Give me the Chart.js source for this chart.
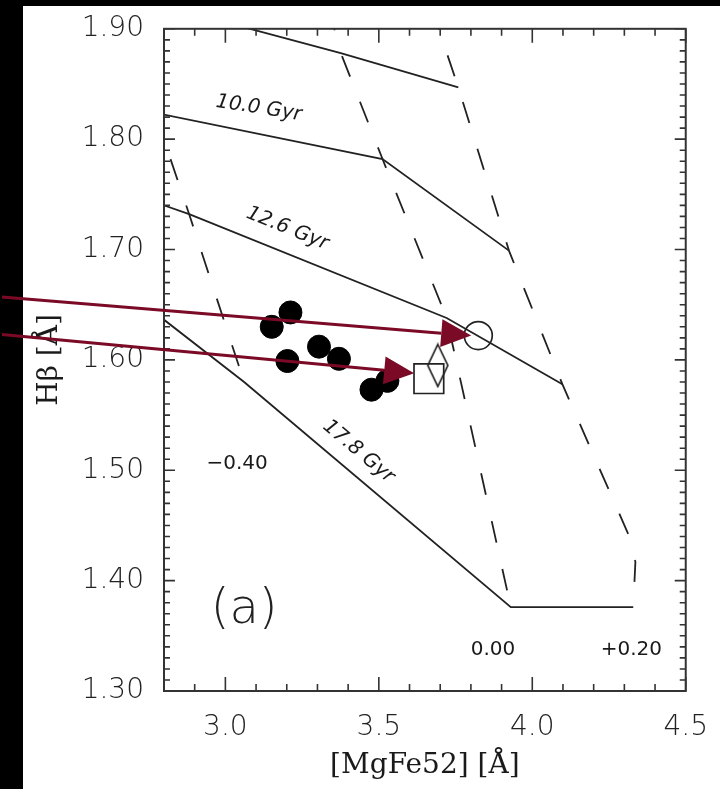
<!DOCTYPE html>
<html>
<head>
<meta charset="utf-8">
<script src="https://cdn.jsdelivr.net/npm/chart.js@4.4.1/dist/chart.umd.min.js"></script>
<style>
  html, body { margin: 0; padding: 0; background: #000; }
  canvas { display: block; }
</style>
</head>
<body>
<canvas id="lickChart" width="720" height="789"></canvas>
<script>
// iso-age model lines (solid), MgFe52 vs Hbeta
const isoTopMg = [3.000, 3.093, 3.376, 3.759];
const isoTopHb = [1.906, 1.899, 1.878, 1.847];
const iso100Mg = [2.770, 3.512, 3.924];
const iso100Hb = [1.824, 1.782, 1.699];
const iso126Mg = [2.780, 2.882, 3.721, 4.098];
const iso126Hb = [1.742, 1.732, 1.638, 1.578];
const iso178Mg = [2.723, 3.061, 3.930, 4.329];
const iso178Hb = [1.653, 1.580, 1.376, 1.376];

// iso-metallicity model lines (dashed)
const metM040Mg = [2.770, 2.882, 3.061];
const metM040Hb = [1.824, 1.732, 1.580];
const met000Mg = [3.338, 3.376, 3.512, 3.721, 3.930];
const met000Hb = [1.918, 1.878, 1.782, 1.638, 1.376];
const metP020Mg = [3.673, 3.759, 3.924, 4.098, 4.313, 4.336, 4.329];
const metP020Hb = [1.918, 1.847, 1.699, 1.578, 1.442, 1.417, 1.376];

// galaxies (filled) and the three comparison objects
const galMg = [3.151, 3.212, 3.202, 3.305, 3.370, 3.476, 3.528];
const galHb = [1.630, 1.643, 1.599, 1.612, 1.601, 1.573, 1.581];
const circleMg = [3.824];
const circleHb = [1.622];
const squareMg = [3.663];
const squareHb = [1.583];
const diamondMg = [3.692];
const diamondHb = [1.595];

// axis tick labels
const xTicks = [3.0, 3.5, 4.0, 4.5];
const yTicks = [1.30, 1.40, 1.50, 1.60, 1.70, 1.80, 1.90];

// annotations in data units
const arrows = [
  { from: [2.272, 1.657], to: [3.801, 1.622] },
  { from: [2.272, 1.623], to: [3.615, 1.588] }
];
const notes = [
  { text: "10.0 Gyr", x: 3.109, y: 1.828, angle: 9, italic: true },
  { text: "12.6 Gyr", x: 3.202, y: 1.719, angle: 22, italic: true },
  { text: "17.8 Gyr", x: 3.434, y: 1.517, angle: 40, italic: true },
  { text: "\u22120.40", x: 3.038, y: 1.506, angle: 0 },
  { text: "0.00", x: 3.872, y: 1.337, angle: 0 },
  { text: "+0.20", x: 4.323, y: 1.337, angle: 0 }
];

const pts = (xs, ys) => xs.map((v, i) => ({ x: v, y: ys[i] }));
const ink = "#222";

// tall open diamond used for one of the markers
const diamond = document.createElement("canvas");
diamond.width = 24;
diamond.height = 46;
(() => {
  const c = diamond.getContext("2d");
  c.strokeStyle = ink;
  c.lineWidth = 1.7;
  c.beginPath();
  c.moveTo(12, 2);
  c.lineTo(22, 23);
  c.lineTo(12, 44);
  c.lineTo(2, 23);
  c.closePath();
  c.stroke();
})();

const lineSet = (xs, ys, dashed) => ({
  data: pts(xs, ys),
  showLine: true,
  pointRadius: 0,
  borderColor: ink,
  borderWidth: 1.8,
  borderDash: dashed ? [22, 27] : [],
  fill: false
});

const pageBg = {
  id: "pageBg",
  beforeDraw(chart) {
    const ctx = chart.ctx;
    ctx.save();
    ctx.fillStyle = "#000";
    ctx.fillRect(0, 0, chart.width, chart.height);
    ctx.fillStyle = "#fff";
    ctx.fillRect(23, 6, chart.width - 23, chart.height - 6);
    ctx.restore();
  }
};

const frameTicks = {
  id: "frameTicks",
  afterDatasetsDraw(chart) {
    const { ctx, chartArea: a, scales: { x, y } } = chart;
    const seg = (x1, y1, x2, y2) => { ctx.moveTo(x1, y1); ctx.lineTo(x2, y2); };
    ctx.save();
    ctx.strokeStyle = "#333";
    ctx.lineWidth = 1.6;
    ctx.beginPath();
    for (let i = 0; i <= 60; i++) {
      const py = y.getPixelForValue(1.30 + i * 0.01);
      const len = i % 10 === 0 ? 11 : 6;
      seg(a.left, py, a.left + len, py);
      seg(a.right, py, a.right - len, py);
    }
    for (let i = 0; i <= 17; i++) {
      const px = x.getPixelForValue(2.8 + i * 0.1);
      const len = (i - 2) % 5 === 0 ? 14 : 7;
      seg(px, a.bottom, px, a.bottom - len);
      seg(px, a.top, px, a.top + len);
    }
    ctx.stroke();
    ctx.lineWidth = 2;
    ctx.strokeRect(a.left, a.top, a.right - a.left, a.bottom - a.top);
    ctx.restore();
  }
};

const annotate = {
  id: "annotate",
  afterDraw(chart) {
    const { ctx, scales: { x, y } } = chart;
    ctx.save();
    ctx.fillStyle = "#1a1a1a";
    ctx.textAlign = "center";
    ctx.textBaseline = "middle";
    notes.forEach(n => {
      ctx.save();
      ctx.translate(x.getPixelForValue(n.x), y.getPixelForValue(n.y));
      ctx.rotate(n.angle * Math.PI / 180);
      ctx.font = (n.italic ? "italic " : "") + "20px 'DejaVu Sans'";
      ctx.fillText(n.text, 0, 0);
      ctx.restore();
    });
    ctx.fillStyle = "#222";
    ctx.font = "300 48px 'DejaVu Sans'";
    ctx.fillText("(a)", x.getPixelForValue(3.061), y.getPixelForValue(1.3725));

    // red arrows pointing at the circle and the square
    ctx.strokeStyle = "#7b0a26";
    ctx.fillStyle = "#7b0a26";
    ctx.lineWidth = 3;
    arrows.forEach(ar => {
      const x0 = x.getPixelForValue(ar.from[0]), y0 = y.getPixelForValue(ar.from[1]);
      const x1 = x.getPixelForValue(ar.to[0]), y1 = y.getPixelForValue(ar.to[1]);
      const ang = Math.atan2(y1 - y0, x1 - x0);
      const head = 30, half = 14;
      const bx = x1 - head * Math.cos(ang), by = y1 - head * Math.sin(ang);
      ctx.beginPath();
      ctx.moveTo(x0, y0);
      ctx.lineTo(bx, by);
      ctx.stroke();
      ctx.beginPath();
      ctx.moveTo(x1, y1);
      ctx.lineTo(bx + half * Math.sin(ang), by - half * Math.cos(ang));
      ctx.lineTo(bx - half * Math.sin(ang), by + half * Math.cos(ang));
      ctx.closePath();
      ctx.fill();
    });
    ctx.restore();
  }
};

new Chart(document.getElementById("lickChart"), {
  type: "scatter",
  data: {
    datasets: [
      {
        data: pts(galMg, galHb),
        pointRadius: 11.5,
        pointBackgroundColor: "#000",
        pointBorderColor: "#000",
        pointBorderWidth: 1
      },
      {
        data: pts(circleMg, circleHb),
        pointStyle: "circle",
        pointRadius: 14,
        pointBackgroundColor: "rgba(0,0,0,0)",
        pointBorderColor: ink,
        pointBorderWidth: 1.7
      },
      {
        data: pts(squareMg, squareHb),
        pointStyle: "rect",
        pointRadius: 21,
        pointBackgroundColor: "rgba(0,0,0,0)",
        pointBorderColor: ink,
        pointBorderWidth: 1.7
      },
      {
        data: pts(diamondMg, diamondHb),
        pointStyle: diamond
      },
      lineSet(isoTopMg, isoTopHb, false),
      lineSet(iso100Mg, iso100Hb, false),
      lineSet(iso126Mg, iso126Hb, false),
      lineSet(iso178Mg, iso178Hb, false),
      lineSet(metM040Mg, metM040Hb, true),
      lineSet(met000Mg, met000Hb, true),
      lineSet(metP020Mg, metP020Hb, true)
    ]
  },
  options: {
    responsive: false,
    animation: false,
    events: [],
    layout: { padding: { left: 0, right: 28, top: 20, bottom: 0 } },
    plugins: { legend: { display: false }, tooltip: { enabled: false } },
    scales: {
      x: {
        type: "linear",
        min: 2.8,
        max: 4.5,
        grid: { display: false },
        border: { display: false },
        afterBuildTicks: s => { s.ticks = xTicks.map(v => ({ value: v })); },
        afterFit: s => { s.height = 98; },
        ticks: {
          autoSkip: false,
          maxRotation: 0,
          padding: 12,
          color: "#222",
          font: { family: "'DejaVu Sans'", size: 28, weight: "300" },
          callback: v => v.toFixed(1)
        },
        title: {
          display: true,
          text: "[MgFe52] [\u00C5]",
          color: "#1a1a1a",
          padding: { top: 0, bottom: 6 },
          font: { family: "'DejaVu Serif'", size: 28 }
        }
      },
      y: {
        type: "linear",
        min: 1.30,
        max: 1.90,
        grid: { display: false },
        border: { display: false },
        afterBuildTicks: s => { s.ticks = yTicks.map(v => ({ value: v })); },
        afterFit: s => { s.width = 164; },
        ticks: {
          autoSkip: false,
          padding: 12,
          color: "#222",
          font: { family: "'DejaVu Sans'", size: 28, weight: "300" },
          callback: v => v.toFixed(2)
        },
        title: {
          display: true,
          text: "H\u03B2 [\u00C5]",
          color: "#1a1a1a",
          padding: { top: 33, bottom: 0 },
          font: { family: "'DejaVu Serif'", size: 28 }
        }
      }
    }
  },
  plugins: [pageBg, frameTicks, annotate]
});
</script>
</body>
</html>
